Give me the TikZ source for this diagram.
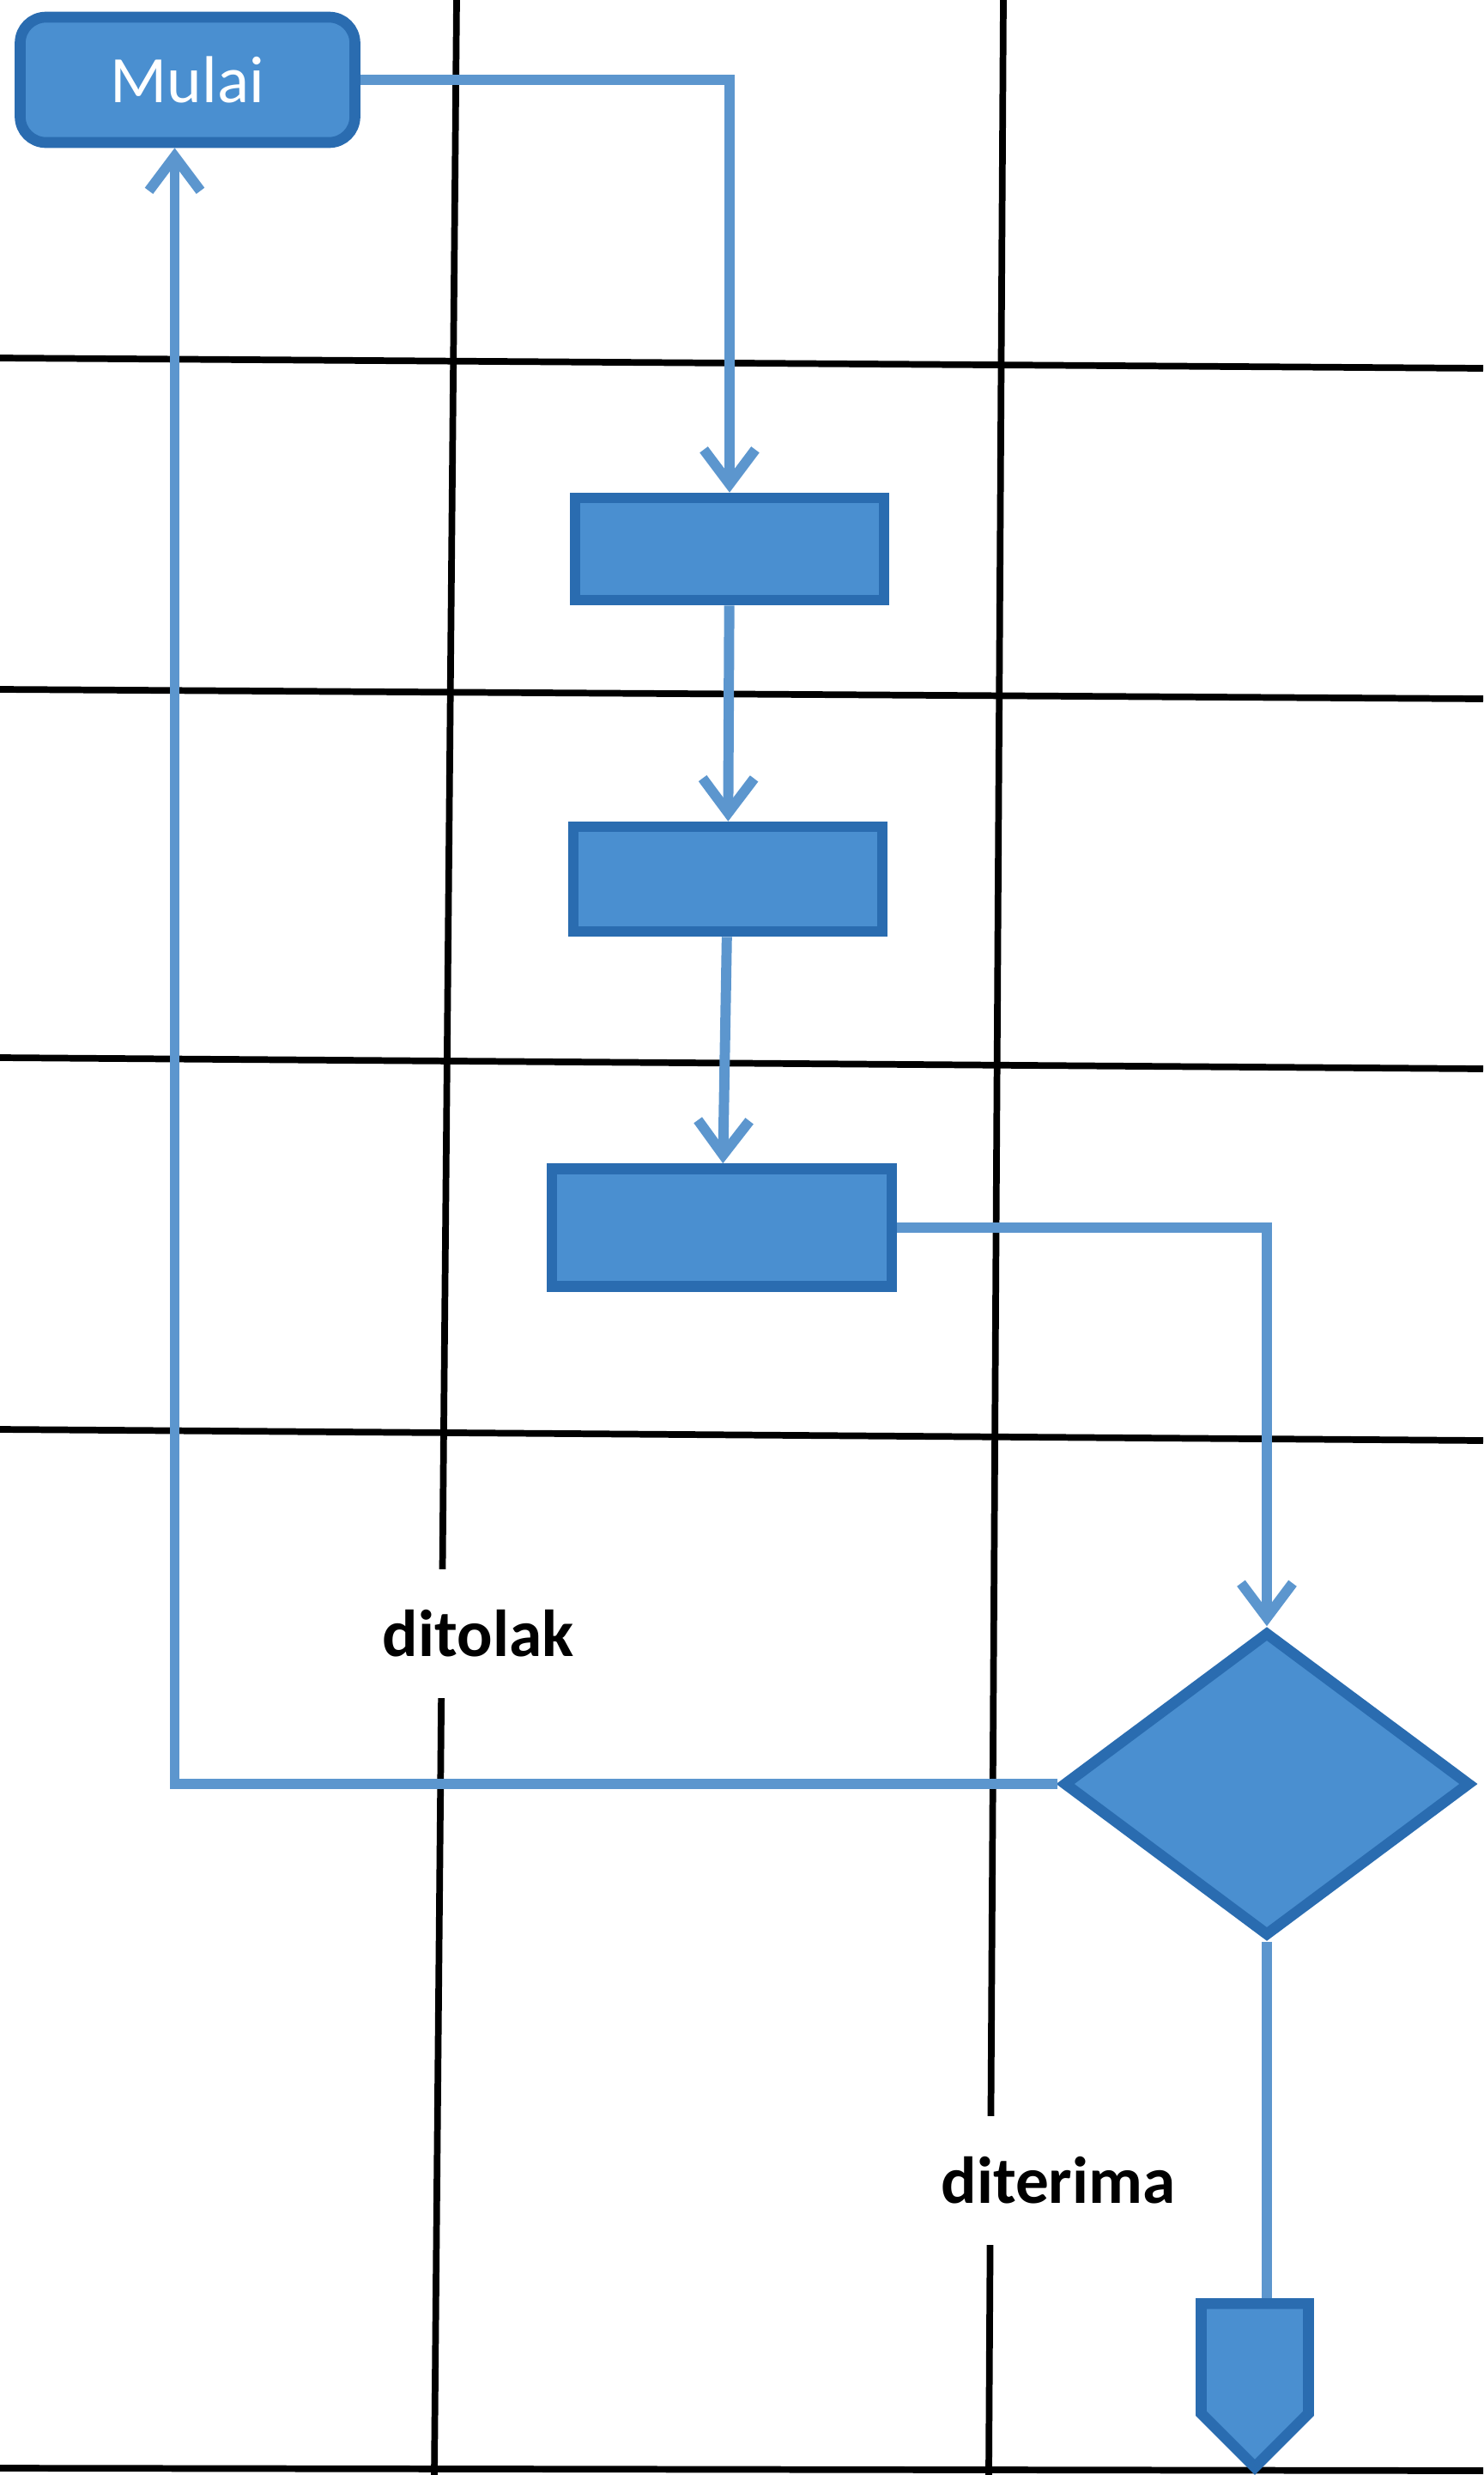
\documentclass[tikz,border=0pt]{standalone}
\usepackage{fontspec}
\setmainfont{Carlito}
\usetikzlibrary{arrows.meta,shapes.geometric,shapes.symbols}

\definecolor{isibiru}{RGB}{74,143,208}
\definecolor{tepibiru}{RGB}{42,108,176}
\definecolor{garisbiru}{RGB}{92,150,206}

\begin{document}
\begin{tikzpicture}[
    kotak/.style={rectangle, draw=tepibiru, fill=isibiru, line width=3.6pt, inner sep=0pt},
    pilihan/.style={diamond, draw=tepibiru, fill=isibiru, line width=3.6pt, inner sep=0pt},
    alur/.style={draw=garisbiru, line width=3.4pt, -{Straight Barb[length=0.4cm, width=0.6cm]}},
    tepi/.style={line width=2.2pt},
    ket/.style={fill=white, inner xsep=3pt, minimum height=1.5cm, font=\fontsize{22}{26}\selectfont\bfseries}
]
            \useasboundingbox (0,0) rectangle (17.28,-28.83);

            % garis tabel
            \draw[tepi] (0,-4.17)  -- (17.28,-4.29);
            \draw[tepi] (0,-8.03)  -- (17.28,-8.14);
            \draw[tepi] (0,-12.32) -- (17.28,-12.45);
            \draw[tepi] (0,-16.65) -- (17.28,-16.78);
            \draw[tepi] (0,-28.75) -- (17.28,-28.78);
            \draw[tepi] (5.32,0)   -- (5.06,-28.83);
            \draw[tepi] (11.69,0)  -- (11.52,-28.83);

            \node[kotak, rounded corners=0.3cm, minimum width=3.9cm, minimum height=1.46cm,
                  text=white, font=\fontsize{22}{26}\selectfont] (mulai) at (2.185,-0.93) {Mulai};
            \node[kotak, minimum width=3.6cm,  minimum height=1.19cm] (langkah1) at (8.50,-6.395)  {};
            \node[kotak, minimum width=3.6cm,  minimum height=1.22cm] (langkah2) at (8.48,-10.24)  {};
            \node[kotak, minimum width=3.96cm, minimum height=1.37cm] (langkah3) at (8.41,-14.30)  {};
            \node[pilihan, minimum width=4.75cm, minimum height=3.55cm] (periksa) at (14.76,-20.78) {};
            \node[signal, signal to=south, signal from=nowhere, signal pointer angle=90,
                  draw=tepibiru, fill=isibiru, line width=3.6pt, inner sep=0pt,
                  minimum width=1.25cm, minimum height=1.28cm, anchor=north] (lanjut) at (14.62,-26.77) {};
            \coordinate (keluar) at (lanjut.south |- 0,-28.83);

            \node[ket] (ditolak)  at (5.57,-19.03)  {ditolak};
            \node[ket] (diterima) at (12.33,-25.40) {diterima};

            \draw[alur] (mulai) -| (langkah1);
            \draw[alur] (langkah1) -- (langkah2);
            \draw[alur] (langkah2) -- (langkah3);
            \draw[alur] (langkah3) -| (periksa);
            \draw[alur] (periksa.west) -| ([xshift=-0.15cm]mulai.south);
            \draw[alur, -] (periksa.south) -- (periksa.south |- lanjut.north);
            \draw[alur, -] (lanjut.south) -- (keluar);

        \end{tikzpicture}
\end{document}
